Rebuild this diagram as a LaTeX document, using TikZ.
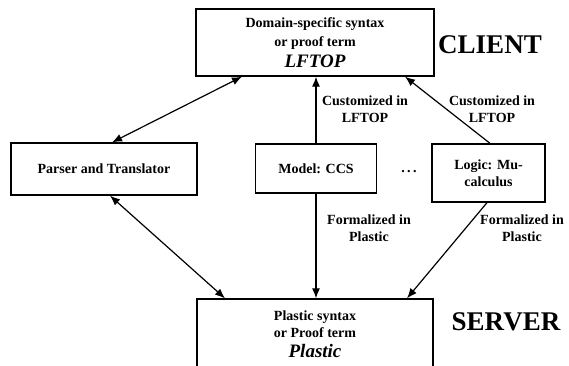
\documentclass[tikz,border=0pt]{standalone}
\usepackage{fontspec}
\setmainfont{Liberation Serif}
\usetikzlibrary{arrows.meta}

\begin{document}
\begin{tikzpicture}[x=1pt,y=-1pt,
  box/.style={draw,line width=1.3pt,align=center,inner sep=0pt,
    font=\fontsize{14}{17}\selectfont\bfseries},
  lbl/.style={align=center,font=\fontsize{14}{17}\selectfont\bfseries},
  big/.style={font=\fontsize{27}{30}\selectfont\bfseries},
  link/.style={line width=1.2pt,-{Latex[length=10pt,width=8pt]}},
  both/.style={line width=1.2pt,{Latex[length=10pt,width=8pt]}-{Latex[length=10pt,width=8pt]}}]
  \useasboundingbox (0,0) rectangle (569,365);

  % Boxes
  \node[box,minimum width=238pt,minimum height=67pt,font=\fontsize{14}{19}\selectfont\bfseries] (lftop) at (315,42.5)
    {Domain-specific syntax\\or proof term\\[2pt]{\fontsize{19}{21}\selectfont\itshape LFTOP}};
  \node[box,minimum width=186pt,minimum height=52pt] (parser) at (104,169) {Parser and Translator};
  \node[box,minimum width=121pt,minimum height=49pt] (model) at (316,168.5) {Model: CCS};
  \node[box,minimum width=113pt,minimum height=58pt] (logic) at (488.5,173) {Logic: Mu-\\calculus};
  \node[box,minimum width=236pt,minimum height=70pt] (plastic) at (315,334)
    {Plastic syntax\\or Proof term\\[3pt]{\fontsize{19}{21}\selectfont\itshape Plastic}};
  \node[font=\fontsize{14}{17}\selectfont\bfseries] (dots) at (409,172) {.\,.\,.};

  % Sides
  \node[big] (client) at (490,45) {CLIENT};
  \node[big] (server) at (506,322) {SERVER};

  % Arrows
  \draw[both] ([xshift=8pt]parser.north) -- ([xshift=-73pt]lftop.south);
  \draw[both] ([xshift=6pt]parser.south) -- ([xshift=-90pt]plastic.north);
  \draw[link] (model.north) -- (model.north |- lftop.south);
  \draw[link] (model.south) -- (model.south |- plastic.north);
  \draw[link] ([xshift=1.5pt]logic.north) -- ([xshift=90pt]lftop.south);
  \draw[link] ([xshift=-1.5pt]logic.south) -- ([xshift=92pt]plastic.north);

  % Arrow labels
  \node[lbl] (cust1) at (365,109) {Customized in\\LFTOP};
  \node[lbl] (cust2) at (492,109) {Customized in\\LFTOP};
  \node[lbl] (form1) at (369,228) {Formalized in\\Plastic};
  \node[lbl] (form2) at (522,228) {Formalized in\\Plastic};
\end{tikzpicture}
\end{document}
